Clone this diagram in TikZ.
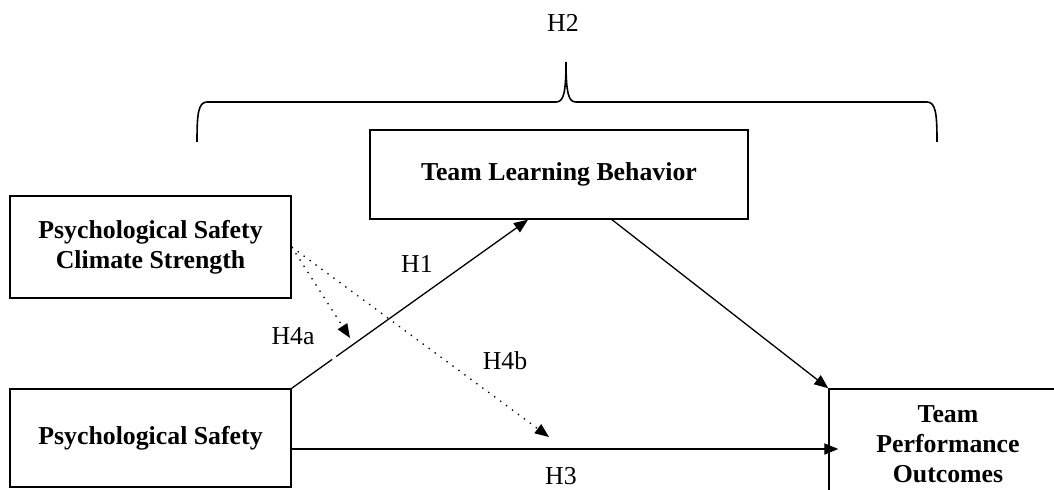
\documentclass[tikz,border=0pt]{standalone}
\usepackage{fontspec}
\setmainfont{Liberation Serif}
\usetikzlibrary{arrows.meta}

\tikzset{
  varbox/.style={draw, line width=0.7pt, align=center,
    font=\fontsize{12.9}{15}\selectfont\bfseries},
  hyp/.style={font=\fontsize{12.9}{15}\selectfont},
  arr/.style={-{Triangle[length=7pt,width=5.6pt]}, line width=0.65pt},
  dotarr/.style={arr, dash pattern=on 0.7pt off 3pt}
}

\begin{document}
\begin{tikzpicture}[x=0.5pt, y=-0.5pt]
  \useasboundingbox (0,0) rectangle (1054,490);

  % constructs
  \node[varbox, minimum width=140.5pt, minimum height=51pt] (pscs) at (150.5,247) {Psychological Safety\\Climate Strength};
  \node[varbox, minimum width=140.5pt, minimum height=49pt] (ps)   at (150.5,438) {Psychological Safety};
  \node[varbox, minimum width=189pt,   minimum height=44.5pt] (tlb) at (559,174.5) {Team Learning Behavior};
  \node[varbox, minimum width=119pt,   minimum height=55pt] (tpo)  at (948,444) {Team\\Performance\\Outcomes};

  % brace over the mediation path
  \draw[line width=0.8pt] (197,142) .. controls (197,115) and (198,102) .. (207,102)
    -- (556,102) .. controls (563,102) and (566,95) .. (566,62)
    .. controls (566,95) and (569,102) .. (576,102)
    -- (927,102) .. controls (936,102) and (937,115) .. (937,142);

  % paths
  \coordinate (h4atip) at (350,338);
  \coordinate (h4btip) at (549,437);
  \draw[arr] (ps.north east) -- ([xshift=-15.5pt]tlb.south)
    coordinate[pos=0.172] (gapa) coordinate[pos=0.188] (gapb);
  \draw[white, line width=1.6pt] (gapa) -- (gapb);
  \draw[arr] ([xshift=26.5pt]tlb.south) -- (tpo.north west);
  \draw[arr, shorten >=-5pt] ([yshift=-5.5pt]ps.east) -- ([yshift=-5.5pt]ps.east -| tpo.west);
  \draw[dotarr] (pscs.east) -- (h4atip);
  \draw[dotarr] (pscs.east) -- (h4btip);

  % labels
  \node[hyp] (h2)  at (563,23)  {H2};
  \node[hyp] (h1)  at (417,264) {H1};
  \node[hyp] (h4a) at (293,336) {H4a};
  \node[hyp] (h4b) at (505,361) {H4b};
  \node[hyp] (h3)  at (561,476) {H3};
\end{tikzpicture}
\end{document}
